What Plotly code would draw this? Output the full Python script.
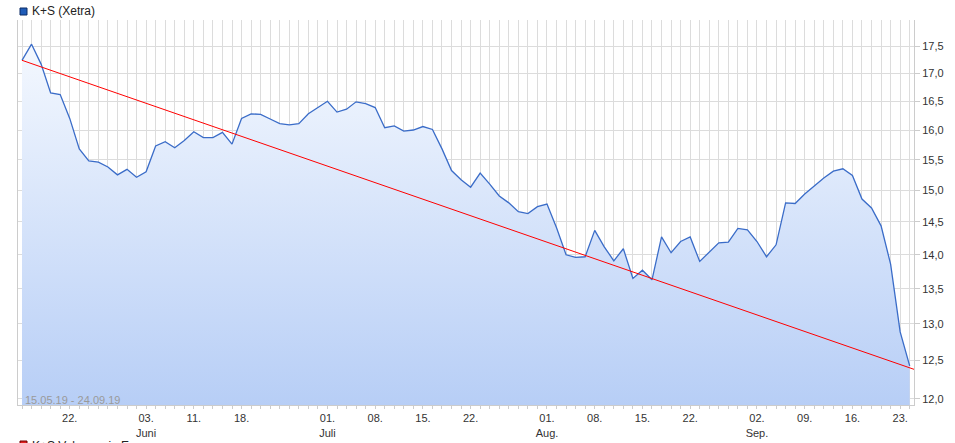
import math
import pandas as pd
import plotly.graph_objects as go

# ---------------- data ----------------
dates = [d for d in pd.bdate_range("2019-05-15", "2019-09-24") if d != pd.Timestamp("2019-06-10")]

prices = [
    17.24, 17.54, 17.17, 16.65, 16.62, 16.20, 15.68, 15.48, 15.46, 15.38,
    15.25, 15.34, 15.21, 15.30, 15.73, 15.80, 15.70, 15.82, 15.97, 15.87,
    15.87, 15.96, 15.76, 16.20, 16.28, 16.27, 16.19, 16.11, 16.09, 16.11,
    16.28, 16.39, 16.50, 16.31, 16.36, 16.49, 16.46, 16.39, 16.04, 16.07,
    15.98, 16.00, 16.06, 16.01, 15.68, 15.32, 15.17, 15.05, 15.28, 15.10,
    14.91, 14.80, 14.66, 14.63, 14.74, 14.78, 14.41, 14.00, 13.96, 13.97,
    14.37, 14.12, 13.91, 14.09, 13.65, 13.77, 13.63, 14.27, 14.03, 14.20,
    14.27, 13.90, 14.04, 14.18, 14.19, 14.40, 14.38, 14.20, 13.97, 14.15,
    14.80, 14.79, 14.94, 15.07, 15.20, 15.31, 15.35, 15.24, 14.86, 14.72,
    14.44, 13.86, 12.89, 12.43,
]

trend_values = [17.24, 12.36]          # trend line start / end value
trend_positions = [0, len(prices)]     # first trading day .. one step past the last

tick_dates = ["2019-05-22", "2019-06-03", "2019-06-11", "2019-06-18", "2019-07-01",
              "2019-07-08", "2019-07-15", "2019-07-22", "2019-08-01", "2019-08-08",
              "2019-08-15", "2019-08-22", "2019-09-02", "2019-09-09", "2019-09-16",
              "2019-09-23"]
tick_text = ["22.", "03.<br>Juni", "11.", "18.", "01.<br>Juli", "08.", "15.", "22.",
             "01.<br>Aug.", "08.", "15.", "22.", "02.<br>Sep.", "09.", "16.", "23."]
y_ticks = [12.0, 12.5, 13.0, 13.5, 14.0, 14.5, 15.0, 15.5, 16.0, 16.5, 17.0, 17.5]

series_name = "K+S (Xetra)"
volume_name = "K+S Volumen in Euro"
period_text = "15.05.19 - 24.09.19"

# ---------------- figure ----------------
idx = list(range(len(prices)))
date_pos = {d.strftime("%Y-%m-%d"): i for i, d in enumerate(dates)}
tick_vals = [date_pos[d] for d in tick_dates]

W, H = 955, 443
# plot area in page pixels
P_LEFT, P_RIGHT, P_TOP, P_BOTTOM = 18, 914, 20, 405
ML, MT = P_LEFT, P_TOP
MR, MB = W - P_RIGHT, H - P_BOTTOM
PW, PH = P_RIGHT - P_LEFT, P_BOTTOM - P_TOP


def px(xp):
    return (xp - P_LEFT) / PW


def py(yp):
    return (P_BOTTOM - yp) / PH


FONT = "Liberation Sans, Arial, sans-serif"
y_lo, y_hi = 11.92, 18.0

fig = go.Figure()
fig.add_trace(go.Scatter(
    x=idx, y=prices, mode="lines",
    line=dict(color="#3a6cc8", width=1.3),
    fill="tozeroy",
    fillgradient=dict(type="vertical", start=y_lo, stop=y_hi,
                      colorscale=[[0, "#b7cef6"], [1, "#f8fbff"]]),
    showlegend=False, hoverinfo="skip",
))
fig.add_trace(go.Scatter(
    x=trend_positions, y=trend_values, mode="lines",
    line=dict(color="#ff0000", width=1),
    showlegend=False, hoverinfo="skip",
))

fig.update_layout(
    width=W, height=H,
    margin=dict(l=ML, r=MR, t=MT, b=MB, autoexpand=False),
    paper_bgcolor="white", plot_bgcolor="white",
    separators=",.",
    font=dict(family=FONT, size=11, color="#333"),
    xaxis=dict(
        range=[-0.42, 93.45], tickvals=tick_vals, ticktext=tick_text,
        showgrid=True, gridcolor="#dcdcdc", gridwidth=1,
        ticks="outside", ticklen=3, tickcolor="#cccccc",
        minor=dict(dtick=1, tick0=0, showgrid=True, gridcolor="#dcdcdc",
                   ticks="outside", ticklen=3, tickcolor="#cccccc"),
        showline=True, linecolor="#cccccc", zeroline=False,
        tickfont=dict(family=FONT, size=11, color="#333"),
        automargin=False, fixedrange=True,
    ),
    yaxis=dict(
        type="log", range=[math.log10(y_lo), math.log10(y_hi)],
        tickvals=y_ticks, tickformat=".1f", side="right",
        showgrid=True, gridcolor="#dcdcdc",
        ticks="outside", ticklen=5, tickcolor="#cccccc",
        showline=True, mirror=True, linecolor="#cccccc", zeroline=False,
        tickfont=dict(family=FONT, size=11, color="#333"),
        automargin=False, fixedrange=True,
    ),
    shapes=[
        dict(type="rect", xref="paper", yref="paper",
             x0=px(20), x1=px(27), y0=py(15), y1=py(8),
             fillcolor="#1f5cb8", line=dict(color="#0d2d66", width=1)),
        dict(type="rect", xref="paper", yref="paper",
             x0=px(20), x1=px(27), y0=py(448), y1=py(441),
             fillcolor="#e02020", line=dict(color="#700000", width=1)),
    ],
    annotations=[
        dict(text=series_name, xref="paper", yref="paper", x=px(30), y=py(11.5),
             xanchor="left", yanchor="middle", showarrow=False,
             font=dict(family=FONT, size=12, color="#222")),
        dict(text=volume_name, xref="paper", yref="paper", x=px(30), y=py(446),
             xanchor="left", yanchor="middle", showarrow=False,
             font=dict(family=FONT, size=12, color="#222")),
        dict(text=period_text, xref="paper", yref="paper", x=px(23), y=py(400),
             xanchor="left", yanchor="middle", showarrow=False,
             font=dict(family=FONT, size=11, color="#9a9a9a")),
    ],
)

fig.write_html(
    "out.html",
    config={"displayModeBar": False, "staticPlot": True},
    post_script="document.body.style.margin='0';document.body.style.overflow='hidden';",
)
